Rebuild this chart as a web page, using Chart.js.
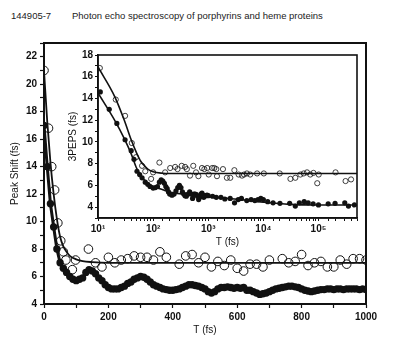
<!DOCTYPE html>
<html lang="en">
<head>
  <meta charset="UTF-8" />
  <title>Photon echo spectroscopy of porphyrins and heme proteins</title>
  <script src="https://cdn.jsdelivr.net/npm/chart.js"></script>
  <style>
    * { margin: 0; padding: 0; box-sizing: border-box; }
    html, body {
      width: 400px;
      height: 352px;
      background: #fff;
      overflow: hidden;
      font-family: 'Liberation Sans', Arial, sans-serif;
      color: #222;
    }
    /* page header above the figure */
    .header {
      position: absolute;
      top: 10px;
      left: 11px;
      font-size: 9.5px;
      white-space: nowrap;
    }
    .header .page { display: inline-block; width: 61px; }
    #mainChart { position: absolute; left: 0; top: 0; }
    /* inset sits over the upper right of the main plot */
    #insetChart { position: absolute; left: 62px; top: 46px; }
  </style>
</head>
<body>
  <div class="header"><span class="page">144905-7</span>Photon echo spectroscopy of porphyrins and heme proteins</div>
  <canvas id="mainChart" width="400" height="352"></canvas>
  <canvas id="insetChart" width="300" height="206"></canvas>

  <script>
    /* ====================================
       Data
    ==================================== */
    // main panel, open circles
    const mainOpenT = [0, 14, 24, 33, 43, 52, 60, 68, 88, 98, 138, 160, 180, 200, 220, 240, 260, 280, 300, 320,
      340, 360, 380, 420, 440, 460, 480, 500, 520, 540, 560, 580, 600, 620, 640, 660, 680, 700, 740, 760,
      780, 800, 820, 840, 860, 880, 900, 920, 940, 960, 980, 1000];
    const mainOpenV = [21.0, 16.8, 14.0, 12.3, 9.9, 8.6, 7.8, 7.2, 6.5, 7.2, 8.0, 7.0, 6.7, 7.4, 7.0, 7.2, 7.3, 7.5, 7.4, 7.4,
      7.2, 7.8, 7.4, 6.9, 7.5, 7.6, 7.0, 7.4, 6.7, 7.1, 6.8, 7.2, 6.6, 6.4, 6.9, 6.9, 6.7, 7.2, 7.3, 7.0,
      7.1, 7.6, 6.8, 7.0, 7.1, 6.7, 6.7, 7.2, 6.9, 7.3, 7.3, 7.2];

    // main panel, fit through the open circles
    const mainFitT = [0, 10, 20, 30, 40, 50, 60, 70, 80, 100, 120, 150, 200, 300, 1000];
    const mainFitV = [21.0, 17.3, 14.3, 12.0, 10.2, 8.9, 8.2, 7.8, 7.5, 7.25, 7.12, 7.05, 7.0, 7.0, 7.0];

    // main panel, filled circles (dense, every 10 fs)
    const mainFilledT = [0, 10, 20, 30, 40, 50, 60, 70, 80, 90, 100, 110, 120, 130, 140, 150, 160, 170, 180, 190,
      200, 210, 220, 230, 240, 250, 260, 270, 280, 290, 300, 310, 320, 330, 340, 350, 360, 370, 380, 390,
      400, 410, 420, 430, 440, 450, 460, 470, 480, 490, 500, 510, 520, 530, 540, 550, 560, 570, 580, 590,
      600, 610, 620, 630, 640, 650, 660, 670, 680, 690, 700, 710, 720, 730, 740, 750, 760, 770, 780, 790,
      800, 810, 820, 830, 840, 850, 860, 870, 880, 890, 900, 910, 920, 930, 940, 950, 960, 970, 980, 990, 1000];
    const mainFilledV = [17.0, 14.0, 11.3, 9.6, 8.0, 7.0, 6.6, 6.3, 6.0, 5.8, 5.7, 5.8, 5.9, 6.3, 6.5, 6.4, 6.2, 5.9, 5.7, 5.4,
      5.2, 5.1, 5.1, 5.1, 5.2, 5.3, 5.5, 5.6, 5.8, 5.9, 6.0, 5.95, 5.8, 5.6, 5.4, 5.3, 5.2, 5.1, 5.05, 5.0,
      5.0, 5.05, 5.1, 5.2, 5.3, 5.4, 5.4, 5.35, 5.3, 5.2, 5.1, 4.9, 4.8, 4.9, 5.1, 5.2, 5.2, 5.25, 5.2, 5.15,
      5.2, 5.15, 5.2, 5.0, 5.0, 4.9, 4.8, 4.7, 4.75, 4.8, 4.9, 5.0, 5.1, 5.15, 5.2, 5.25, 5.3, 5.3, 5.25, 5.2,
      5.1, 5.0, 4.95, 4.9, 4.95, 5.0, 5.05, 5.05, 5.1, 5.1, 5.05, 5.1, 5.1, 5.05, 5.1, 5.1, 5.1, 5.1, 5.05, 5.1, 5.05];

    // inset (log time axis), open circles
    const insetOpenT = [10.8, 21, 31, 41, 49, 63, 72, 92, 100, 130, 165, 204, 251, 277, 330, 380, 409, 467, 535, 600,
      663, 770, 850, 958, 1020, 1180, 1290, 1400, 1440, 1850, 2180, 2510, 2980, 3560, 4100, 4470, 5030, 5770, 7700, 10200,
      19800, 31000, 38000, 47000, 54000, 62000, 71000, 81000, 95000, 101000, 204000, 310000, 390000];
    const insetOpenV = [16.8, 13.9, 12.4, 9.9, 8.6, 7.8, 7.3, 6.6, 7.2, 8.1, 7.2, 7.6, 7.7, 7.5, 7.8, 7.7, 7.5, 6.9, 7.8, 7.2,
      6.85, 7.6, 7.5, 7.6, 7.0, 7.6, 7.6, 7.5, 6.85, 7.5, 6.7, 6.7, 7.4, 7.0, 6.9, 7.0, 7.1, 7.0, 7.1, 7.1,
      7.1, 6.6, 6.7, 7.0, 7.1, 7.2, 7.0, 7.15, 6.2, 7.0, 7.2, 6.4, 6.55];

    // inset, filled circles
    const insetFilledT = [11, 16, 22, 31, 40, 45, 51, 57, 63, 72, 80, 88, 100, 110, 120, 130, 140, 150, 160, 170,
      180, 190, 200, 220, 240, 260, 280, 300, 320, 340, 360, 380, 400, 430, 460, 490, 520, 550, 580, 610,
      640, 670, 700, 740, 770, 800, 830, 870, 900, 950, 1000, 1200, 1400, 1700, 2000, 2500, 3000, 3500, 4000, 5000,
      6000, 7000, 8000, 9000, 10000, 12000, 15000, 20000, 30000, 38000, 45000, 55000, 65000, 80000, 100000, 150000, 200000, 300000, 350000, 450000];
    const insetFilledV = [14.6, 13.0, 11.7, 10.2, 9.2, 8.4, 7.3, 7.0, 6.7, 6.3, 6.1, 5.9, 5.75, 5.8, 5.9, 6.3, 6.5, 6.4, 6.2, 5.9,
      5.7, 5.4, 5.2, 5.1, 5.2, 5.5, 5.8, 6.0, 5.8, 5.4, 5.2, 5.05, 5.0, 5.2, 5.4, 5.2, 4.8, 5.2, 5.2, 5.15,
      5.0, 4.7, 4.9, 5.2, 5.3, 5.1, 4.9, 5.05, 5.05, 5.1, 5.05, 5.0, 4.9, 4.9, 4.75, 4.8, 4.4, 4.7, 4.8, 4.6,
      4.7, 4.6, 4.7, 4.8, 4.7, 4.5, 4.4, 4.35, 4.35, 4.1, 4.4, 4.5, 4.4, 4.3, 4.2, 4.3, 4.35, 4.4, 4.1, 4.2];

    // inset fit curves
    const insetOpenFitT = [10, 20, 30, 40, 50, 60, 70, 80, 100, 150, 200, 1000, 500000];
    const insetOpenFitV = [16.9, 14.2, 12.0, 10.2, 9.0, 8.2, 7.8, 7.5, 7.25, 7.12, 7.1, 7.1, 7.1];
    const insetFilledFitT = [10, 20, 30, 40, 50, 60, 80, 100, 150, 200, 500, 1000, 3000, 10000, 30000, 100000, 500000];
    const insetFilledFitV = [14.5, 12.0, 10.3, 8.9, 7.6, 6.9, 6.2, 5.9, 5.6, 5.4, 5.1, 4.95, 4.75, 4.45, 4.25, 4.2, 4.2];

    // tick labels
    const mainXLabels = [0, 200, 400, 600, 800, 1000];
    const mainYLabels = [4, 6, 8, 10, 12, 14, 16, 18, 20, 22];
    const insetYLabels = [4, 6, 8, 10, 12, 14, 16, 18];
    const insetXLabels = { 10: '10\u00b9', 100: '10\u00b2', 1000: '10\u00b3', 10000: '10\u2074', 100000: '10\u2075' };

    const pairs = (xs, ys) => xs.map((x, i) => ({ x: x, y: ys[i] }));

    /* ====================================
       Shared styling
    ==================================== */
    const INK = '#111';
    const tickFont = { family: "'Liberation Sans', Arial, sans-serif", size: 10, weight: 'bold' };
    const titleFont = { family: "'Liberation Sans', Arial, sans-serif", size: 10 };

    // closes the box (top/right edges) and optionally paints the plot area white
    const frame = {
      id: 'frame',
      beforeDraw(chart, args, opts) {
        if (!opts.fill) return;
        const a = chart.chartArea;
        chart.ctx.save();
        chart.ctx.fillStyle = opts.fill;
        chart.ctx.fillRect(a.left, a.top, a.right - a.left, a.bottom - a.top);
        chart.ctx.restore();
      },
      afterDraw(chart, args, opts) {
        const a = chart.chartArea;
        const ctx = chart.ctx;
        ctx.save();
        ctx.strokeStyle = INK;
        ctx.lineWidth = opts.width || 2;
        ctx.strokeRect(a.left, a.top, a.right - a.left, a.bottom - a.top);
        ctx.restore();
      }
    };

    /* ====================================
       Main panel
    ==================================== */
    new Chart(document.getElementById('mainChart'), {
      type: 'scatter',
      data: {
        datasets: [
          {
            data: pairs(mainFitT, mainFitV),
            showLine: true,
            borderColor: INK,
            borderWidth: 1.8,
            pointRadius: 0,
            cubicInterpolationMode: 'monotone',
            order: 1
          },
          {
            data: pairs(mainFilledT, mainFilledV),
            showLine: true,
            borderColor: INK,
            borderWidth: 3,
            backgroundColor: INK,
            pointRadius: 3.7,
            pointBorderWidth: 0,
            order: 2
          },
          {
            data: pairs(mainOpenT, mainOpenV),
            borderColor: INK,
            backgroundColor: 'rgba(0,0,0,0)',
            pointRadius: 4.3,
            pointBorderWidth: 1,
            order: 3
          }
        ]
      },
      options: {
        responsive: false,
        animation: false,
        events: [],
        layout: { padding: { left: 0, top: 43, right: 34, bottom: 0 } },
        plugins: { legend: { display: false }, tooltip: { enabled: false }, frame: { width: 2 } },
        scales: {
          x: {
            type: 'linear',
            min: 0,
            max: 1000,
            afterFit: s => { s.height = 48; },
            ticks: {
              stepSize: 100,
              autoSkip: false,
              maxRotation: 0,
              padding: 3,
              color: INK,
              font: tickFont,
              callback: v => mainXLabels.includes(v) ? String(v) : ''
            },
            grid: { drawOnChartArea: false, tickLength: 4, color: INK, tickWidth: 1.2 },
            border: { color: INK, width: 2 },
            title: { display: true, text: 'T (fs)', color: INK, font: titleFont, padding: { top: 0, bottom: 16 } }
          },
          y: {
            min: 4,
            max: 23,
            afterFit: s => { s.width = 44; },
            ticks: {
              stepSize: 1,
              autoSkip: false,
              padding: 3,
              color: INK,
              font: tickFont,
              callback: v => mainYLabels.includes(v) ? String(v) : ''
            },
            grid: { drawOnChartArea: false, tickLength: 4, color: INK, tickWidth: 1.2 },
            border: { color: INK, width: 2 },
            title: { display: true, text: 'Peak Shift (fs)', color: INK, font: titleFont, padding: { top: 9, bottom: 0 } }
          }
        }
      },
      plugins: [frame]
    });

    /* ====================================
       Inset (log time axis)
    ==================================== */
    new Chart(document.getElementById('insetChart'), {
      type: 'scatter',
      data: {
        datasets: [
          {
            data: pairs(insetOpenFitT, insetOpenFitV),
            showLine: true,
            borderColor: INK,
            borderWidth: 1.6,
            pointRadius: 0,
            cubicInterpolationMode: 'monotone',
            order: 1
          },
          {
            data: pairs(insetFilledFitT, insetFilledFitV),
            showLine: true,
            borderColor: INK,
            borderWidth: 1.6,
            pointRadius: 0,
            cubicInterpolationMode: 'monotone',
            order: 2
          },
          {
            data: pairs(insetFilledT, insetFilledV),
            backgroundColor: INK,
            pointRadius: 2.6,
            pointBorderWidth: 0,
            order: 3
          },
          {
            data: pairs(insetOpenT, insetOpenV),
            borderColor: INK,
            backgroundColor: 'rgba(0,0,0,0)',
            pointRadius: 2.6,
            pointBorderWidth: 0.8,
            order: 4
          }
        ]
      },
      options: {
        responsive: false,
        animation: false,
        events: [],
        layout: { padding: { left: 0, top: 9, right: 5, bottom: 0 } },
        plugins: { legend: { display: false }, tooltip: { enabled: false }, frame: { width: 1.6, fill: '#fff' } },
        scales: {
          x: {
            type: 'logarithmic',
            min: 10,
            max: 500000,
            afterFit: s => { s.height = 34; },
            ticks: {
              autoSkip: false,
              maxRotation: 0,
              padding: 2,
              color: INK,
              font: tickFont,
              callback: v => insetXLabels[Math.round(v)] || ''
            },
            grid: { drawOnChartArea: false, tickLength: 3, color: INK, tickWidth: 1 },
            border: { color: INK, width: 1.6 },
            title: { display: true, text: 'T (fs)', color: INK, font: titleFont, padding: { top: 0, bottom: 4 } }
          },
          y: {
            min: 3,
            max: 18,
            afterFit: s => { s.width = 36; },
            ticks: {
              stepSize: 1,
              autoSkip: false,
              padding: 2,
              color: INK,
              font: tickFont,
              callback: v => insetYLabels.includes(v) ? String(v) : ''
            },
            grid: { drawOnChartArea: false, tickLength: 3, color: INK, tickWidth: 1 },
            border: { color: INK, width: 1.6 },
            title: { display: true, text: '3PEPS (fs)', color: INK, font: titleFont, padding: { top: 5, bottom: 0 } }
          }
        }
      },
      plugins: [frame]
    });
  </script>
</body>
</html>
